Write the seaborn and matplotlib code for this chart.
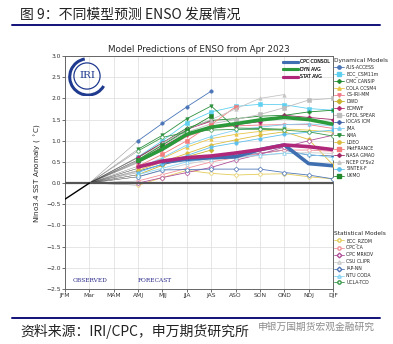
import matplotlib
matplotlib.use("Agg")
import matplotlib.pyplot as plt
from matplotlib.lines import Line2D
from matplotlib.patches import Circle, Arc
import seaborn as sns
import pandas as pd

# ---------------- data ----------------
seasons = ["JFM", "Mar", "MAM", "AMJ", "MJJ", "JJA", "JAS", "ASO", "SON", "OND", "NDJ", "DJF"]
observed = [-0.38, 0.0]            # JFM, Mar

# forecasts start at AMJ
aus_access = [1.00, 1.41, 1.80, 2.17]
bcc_csm11m = [0.62, 1.00, 1.42, 1.68, 1.81, 1.86, 1.85, 1.76, 1.72]
cmc_cansip = [0.60, 0.95, 1.30, 1.48, 1.52, 1.58, 1.60, 1.68, 1.72]
cola_ccsm4 = [0.35, 0.58, 0.85, 1.05, 1.15, 1.22, 1.28, 1.25, 1.20]
cs_iri_mm = [0.48, 0.78, 1.10, 1.30, 1.35, 1.37, 1.38, 1.38, 1.29]
dwd = [0.20, 0.42, 0.62, 0.78]
ecmwf = [0.61, 0.95, 1.27, 1.46]
gfdl_spear = [0.52, 0.90, 1.20, 1.40, 1.50, 1.62, 1.78, 1.96, 2.00]
iocas_icm = [0.28, 0.44, 0.55, 0.62, 0.65, 0.70, 0.78, 0.66, 0.64]
jma = [0.35, 0.60, 0.90, 1.10, 1.25, 1.32, 1.38, 1.40, 1.35]
kma = [0.80, 1.13, 1.52, 1.82, 1.30, 1.29, 1.27]
ldeo = [0.30, 0.50, 0.70, 0.90, 1.02, 1.13, 1.21, 1.03, 0.43]
metfrance = [0.40, 0.68, 1.00, 1.38, 1.80]
nasa_gmao = [0.50, 0.86, 1.17, 1.30, 1.38, 1.45, 1.60, 1.55, 1.50]
ncep_cfsv2 = [0.55, 0.94, 1.27, 1.50, 1.75, 2.00, 2.09]
sintex_f = [0.25, 0.45, 0.65, 0.85, 0.95, 1.05, 1.15, 1.20, 1.25]
ukmo = [0.55, 0.90, 1.25, 1.58]

bcc_rzdm = [-0.05, 0.13, 0.30, 0.23, 0.19, 0.21, 0.22, 0.15, 0.10]
cpc_ca = [0.05, 0.20, 0.35, 0.50, 0.60, 0.70, 0.78, 0.78, 0.75]
cpc_mrkov = [0.00, 0.13, 0.25, 0.37, 0.54, 0.68, 0.85, 1.00, 1.13]
csu_clipr = [0.15, 0.30, 0.45, 0.55, 0.60, 0.65, 0.70, 0.72, 0.70]
iap_nn = [0.15, 0.31, 0.32, 0.33, 0.33, 0.33, 0.25, 0.19, 0.10]
ntu_coda = [0.20, 0.35, 0.50, 0.58, 0.62, 0.66, 0.71, 0.68, 0.60]
ucla_tcd = [0.76, 1.08, 1.20, 1.25, 1.27, 1.27, 1.25, 1.21, 1.11]

cpc_consol = [0.50, 0.56, 0.60, 0.62, 0.79, 0.90, 0.46, 0.41]   # from MJJ
dyn_avg = [0.52, 0.80, 1.15, 1.32, 1.40, 1.49, 1.55, 1.50, 1.39]
stat_avg = [0.38, 0.52, 0.60, 0.64, 0.71, 0.79, 0.90, 0.86, 0.79]

dyn_names = ["AUS-ACCESS", "BCC_CSM11m", "CMC CANSIP", "COLA CCSM4", "CS-IRI-MM", "DWD",
             "ECMWF", "GFDL SPEAR", "IOCAS ICM", "JMA", "KMA", "LDEO", "MetFRANCE",
             "NASA GMAO", "NCEP CFSv2", "SINTEX-F", "UKMO"]
dyn_values = [aus_access, bcc_csm11m, cmc_cansip, cola_ccsm4, cs_iri_mm, dwd, ecmwf,
              gfdl_spear, iocas_icm, jma, kma, ldeo, metfrance, nasa_gmao, ncep_cfsv2,
              sintex_f, ukmo]
stat_names = ["BCC_RZDM", "CPC CA", "CPC MRKOV", "CSU CLIPR", "IAP-NN", "NTU CODA", "UCLA-TCD"]
stat_values = [bcc_rzdm, cpc_ca, cpc_mrkov, csu_clipr, iap_nn, ntu_coda, ucla_tcd]

# ---------------- styles ----------------
dyn_colors = ["#4a76b8", "#5fd0f0", "#1f8a2e", "#e8c547", "#f07888", "#c9b12c", "#b5296e",
              "#bdbdbd", "#3f62a8", "#7fd0f2", "#2e9140", "#dcbc3c", "#f47c7c", "#a02364",
              "#c4c4c4", "#5ec0ee", "#22882e"]
dyn_markers = ["o", "s", "P", "^", "v", "D", "P", "s", "P", "^", "v", "o", "s", "P", "^", "o", "s"]
stat_colors = ["#e4cc5a", "#f0909a", "#b0509a", "#cccccc", "#5078b8", "#88d4f4", "#3a9a4a"]
stat_markers = ["o", "o", "D", "^", "D", "^", "o"]

sns.set_style("whitegrid")
plt.rcParams["font.family"] = ["DejaVu Sans"]

fig = plt.figure(figsize=(3.93, 3.44), dpi=100)
ax = fig.add_axes([65 / 393, 1 - 289 / 344, (333 - 65) / 393, (289 - 56) / 344])

x_fc = list(range(3, 12))

# connecting lines Mar -> AMJ
for vals in dyn_values + stat_values:
    ax.plot([1, 3], [0, vals[0]], color="#333333", lw=0.35, alpha=0.55, zorder=2)

for name, vals, c, m in zip(dyn_names, dyn_values, dyn_colors, dyn_markers):
    df = pd.DataFrame({"x": x_fc[:len(vals)], "y": vals})
    sns.lineplot(data=df, x="x", y="y", ax=ax, color=c, marker=m, markersize=2.5,
                 markeredgewidth=0.4, markeredgecolor=c, lw=0.6, zorder=3)

for name, vals, c, m in zip(stat_names, stat_values, stat_colors, stat_markers):
    df = pd.DataFrame({"x": x_fc[:len(vals)], "y": vals})
    sns.lineplot(data=df, x="x", y="y", ax=ax, color=c, marker=m, markersize=2.5,
                 markerfacecolor="white", markeredgecolor=c, markeredgewidth=0.5,
                 lw=0.6, zorder=3)

sns.lineplot(x=list(range(4, 12)), y=cpc_consol, ax=ax, color="#3f6fb0", lw=2.6, zorder=5)
sns.lineplot(x=x_fc, y=dyn_avg, ax=ax, color="#2a9a3a", lw=2.6, zorder=5)
sns.lineplot(x=x_fc, y=stat_avg, ax=ax, color="#b0287a", lw=2.6, zorder=5)

sns.lineplot(x=[0, 1], y=observed, ax=ax, color="black", lw=1.0, zorder=6)
ax.axhline(0, color="#555555", lw=1.6, zorder=4)

ax.set_xlim(0, 11)
ax.set_ylim(-2.5, 3.0)
ax.set_xticks(range(12))
ax.set_xticklabels(seasons)
ax.set_yticks([-2.5, -2.0, -1.5, -1.0, -0.5, 0.0, 0.5, 1.0, 1.5, 2.0, 2.5, 3.0])
ax.set_yticklabels(["\u22122.5", "\u22122.0", "\u22121.5", "\u22121.0", "\u22120.5", "0.0",
                    "0.5", "1.0", "1.5", "2.0", "2.5", "3.0"])
ax.tick_params(axis="both", labelsize=4.3, length=2, width=0.5, pad=1, colors="#333333",
               bottom=True, left=True)
ax.grid(True, color="#dcdcdc", lw=0.5)
for s in ax.spines.values():
    s.set_color("#666666")
    s.set_linewidth(0.7)
ax.set_xlabel("")
ax.set_ylabel("Nino3.4 SST Anomaly ( $^\\circ$C)", fontsize=5.2, labelpad=2)
ax.set_title("Model Predictions of ENSO from Apr 2023", fontsize=6.3, pad=3)

ax.text(0.3, -2.33, "OBSERVED", fontsize=4.2, color="#2a2a8a", family="DejaVu Serif")
ax.text(3.0, -2.33, "FORECAST", fontsize=4.2, color="#2a2a8a", family="DejaVu Serif")

# IRI logo
logo = fig.add_axes([67 / 393, 1 - 96 / 344, 40 / 393, 40 / 344])
logo.set_xlim(-1.1, 1.1)
logo.set_ylim(-1.1, 1.1)
logo.set_aspect("equal")
logo.axis("off")
logo.add_patch(Circle((0, 0), 0.72, fill=False, ec="#1f3a8f", lw=0.9))
logo.add_patch(Arc((0.05, -0.05), 2.0, 2.0, theta1=100, theta2=330, ec="#1f3a8f", lw=2.2))
logo.text(0, 0, "IRI", ha="center", va="center", fontsize=7.5, color="#1f3a8f",
          family="DejaVu Serif")

# inside legend
h_avg = [Line2D([], [], color="#3f6fb0", lw=2.2), Line2D([], [], color="#2a9a3a", lw=2.2),
         Line2D([], [], color="#b0287a", lw=2.2)]
leg1 = ax.legend(h_avg, ["CPC CONSOL", "DYN AVG", "STAT AVG"], loc="upper right",
                 bbox_to_anchor=(1.0, 1.0), fontsize=3.3, frameon=False, handlelength=3.2,
                 labelspacing=0.55, handletextpad=0.5, borderaxespad=0.3)
ax.add_artist(leg1)

h_dyn = [Line2D([], [], color=c, marker=m, markersize=2.4, lw=0.6) for c, m in zip(dyn_colors, dyn_markers)]
h_stat = [Line2D([], [], color=c, marker=m, markersize=2.4, lw=0.6, markerfacecolor="white")
          for c, m in zip(stat_colors, stat_markers)]
leg2 = fig.legend(h_dyn, dyn_names, loc="upper left", bbox_to_anchor=(333 / 393, 1 - 57 / 344),
                  fontsize=3.3, frameon=False, title="Dynamical Models", title_fontsize=4.2,
                  handlelength=2.2, labelspacing=0.38, handletextpad=0.5, borderaxespad=0,
                  borderpad=0.2)
leg2._legend_box.align = "left"
leg3 = fig.legend(h_stat, stat_names, loc="upper left", bbox_to_anchor=(333 / 393, 1 - 230 / 344),
                  fontsize=3.3, frameon=False, title="Statistical Models", title_fontsize=4.2,
                  handlelength=2.2, labelspacing=0.42, handletextpad=0.5, borderaxespad=0,
                  borderpad=0.2)
leg3._legend_box.align = "left"

# header / footer
cjk = ["Noto Sans CJK SC", "DejaVu Sans"]
fig.text(20 / 393, 1 - 15 / 344, "图 9：不同模型预测 ENSO 发展情况", fontsize=10,
         family=cjk, va="center", ha="left", color="#222222")
fig.add_artist(Line2D([12 / 393, 380 / 393], [1 - 25 / 344, 1 - 25 / 344], color="#10107a", lw=1.4))
fig.add_artist(Line2D([12 / 393, 380 / 393], [1 - 318 / 344, 1 - 318 / 344], color="#10107a", lw=1.4))
fig.text(20 / 393, 1 - 331 / 344, "资料来源：IRI/CPC，申万期货研究所", fontsize=10,
         family=cjk, va="center", ha="left", color="#222222")
fig.text(258 / 393, 1 - 327 / 344, "申银万国期货宏观金融研究", fontsize=7,
         family=cjk, va="center", ha="left", color="#777777", alpha=0.85)

fig.savefig("out.png", dpi=100)
